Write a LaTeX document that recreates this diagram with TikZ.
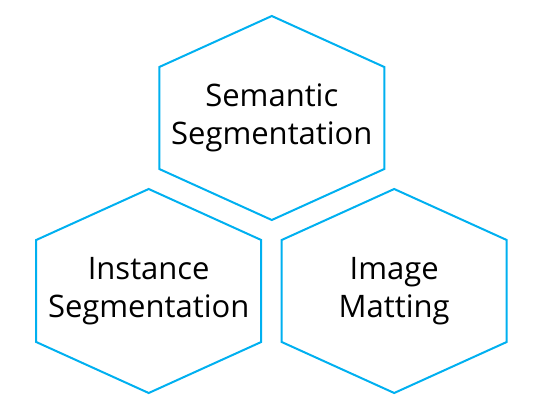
\documentclass[tikz,border=0pt]{standalone}
\usepackage{fontspec}
\setmainfont{Open Sans}
\usepackage{tikz}
\usetikzlibrary{calc}
\definecolor{hexblue}{RGB}{0,176,240}
% hexagon with pointy top and bottom round a named node
\newcommand{\hexround}[1]{%
  \draw[hexedge] ($(#1)+(0,-102)$) -- ++(112.5,51) -- ++(0,102) -- ++(-112.5,51)
    -- ++(-112.5,-51) -- ++(0,-102) -- cycle;}

\begin{document}
\begin{tikzpicture}[x=1pt, y=-1pt,
  hexedge/.style={draw=hexblue, line width=2pt, line join=miter},
  label/.style={align=center, font=\fontsize{31}{38}\selectfont, inner sep=0pt}]
\useasboundingbox (0,0) rectangle (541,415);
% the three fields
\node[label] (sem) at (271.8,118) {Semantic\\Segmentation};
\node[label] (ins) at (148.7,291) {Instance\\Segmentation};
\node[label] (mat) at (394.2,291) {Image\\Matting};
\hexround{sem}
\hexround{ins}
\hexround{mat}
\end{tikzpicture}
\end{document}
